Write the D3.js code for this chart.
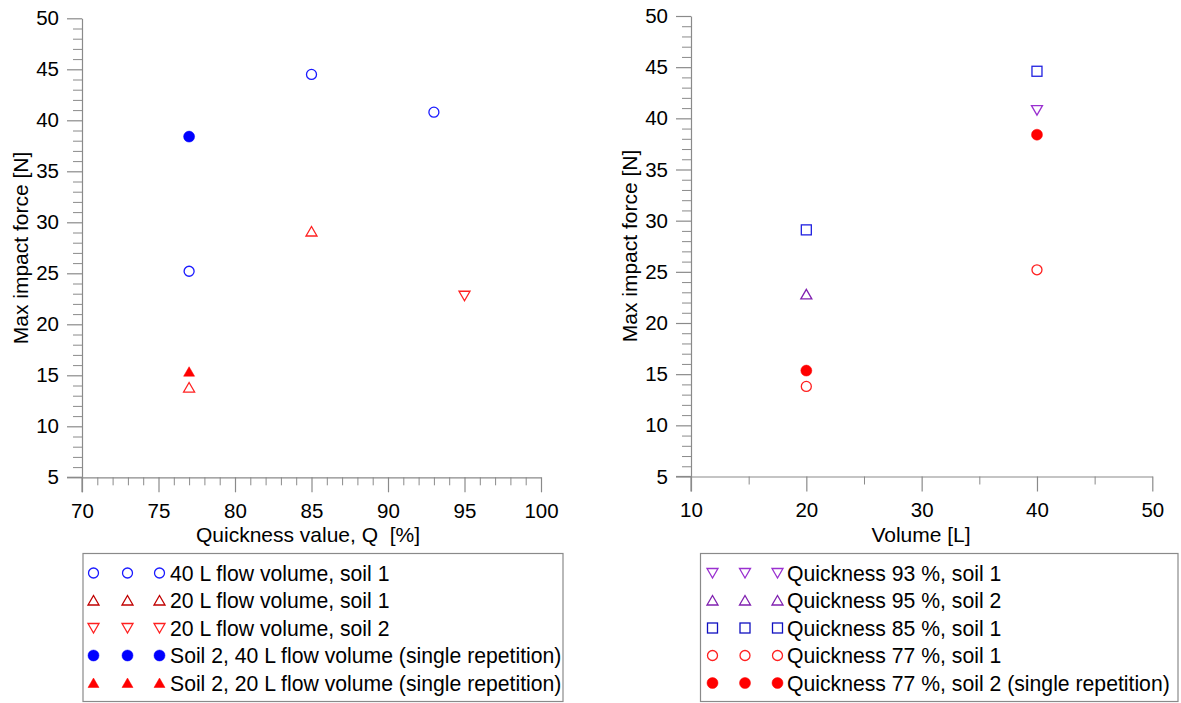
<!DOCTYPE html>
<html>
<head>
<meta charset="utf-8">
<script src="https://cdn.jsdelivr.net/npm/d3@7"></script>
<style>
  html, body { margin: 0; padding: 0; background: #fff; }
  svg { display: block; font-family: "Liberation Sans", Arial, sans-serif; }
  text { white-space: pre; }
</style>
</head>
<body>
<svg id="chart" width="1181" height="703"></svg>
<script>
// ---- Data: max impact force [N] ----
// Left panel: against quickness value Q [%]
const qSoil1Vol40 = [{x: 77, y: 25.2}, {x: 85, y: 44.5}, {x: 93, y: 40.8}];
const qSoil1Vol20 = [{x: 77, y: 13.8}, {x: 85, y: 29.1}];
const qSoil2Vol20 = [{x: 95, y: 22.8}];
const qSoil2Vol40Single = [{x: 77, y: 38.4}];
const qSoil2Vol20Single = [{x: 77, y: 15.35}];

// Right panel: against flow volume [L]
const vQ93Soil1 = [{x: 40, y: 40.8}];
const vQ95Soil2 = [{x: 20, y: 22.8}];
const vQ85Soil1 = [{x: 20, y: 29.1}, {x: 40, y: 44.6}];
const vQ77Soil1 = [{x: 20, y: 13.8}, {x: 40, y: 25.2}];
const vQ77Soil2Single = [{x: 20, y: 15.35}, {x: 40, y: 38.4}];

const yTicks = [5, 10, 15, 20, 25, 30, 35, 40, 45, 50];
const qTicks = [70, 75, 80, 85, 90, 95, 100];
const volTicks = [10, 20, 30, 40, 50];

const leftLegend = [
  {label: "40 L flow volume, soil 1", shape: "circle", fill: false, color: "#1a1aff"},
  {label: "20 L flow volume, soil 1", shape: "up", fill: false, color: "#c00000"},
  {label: "20 L flow volume, soil 2", shape: "down", fill: false, color: "#ff2020"},
  {label: "Soil 2, 40 L flow volume (single repetition)", shape: "circle", fill: true, color: "#0000ff"},
  {label: "Soil 2, 20 L flow volume (single repetition)", shape: "up", fill: true, color: "#ff0000"}
];
const rightLegend = [
  {label: "Quickness 93 %, soil 1", shape: "down", fill: false, color: "#9a30d0"},
  {label: "Quickness 95 %, soil 2", shape: "up", fill: false, color: "#8020b0"},
  {label: "Quickness 85 %, soil 1", shape: "square", fill: false, color: "#1010c0"},
  {label: "Quickness 77 %, soil 1", shape: "circle", fill: false, color: "#ff2020"},
  {label: "Quickness 77 %, soil 2 (single repetition)", shape: "circle", fill: true, color: "#ff0000"}
];

const svg = d3.select("#chart");
const axisColor = "#8a8a8a";
const font = '"Liberation Sans", Arial, sans-serif';

// marker drawing helper
function marker(g, shape, fill, color, cx, cy) {
  let el;
  if (shape === "circle") {
    el = g.append("circle").attr("cx", cx).attr("cy", cy).attr("r", fill ? 5.5 : 5);
  } else if (shape === "square") {
    el = g.append("rect").attr("x", cx - 5).attr("y", cy - 5).attr("width", 10).attr("height", 10);
  } else if (shape === "up") {
    const w = 5.5, h = 9;
    el = g.append("path").attr("d",
      `M${cx},${cy - h / 2 - 0.5}L${cx + w},${cy + h / 2}L${cx - w},${cy + h / 2}Z`);
  } else {
    const w = 5.5, h = 9;
    el = g.append("path").attr("d",
      `M${cx - w},${cy - h / 2}L${cx + w},${cy - h / 2}L${cx},${cy + h / 2 + 0.5}Z`);
  }
  el.attr("fill", fill ? color : "none")
    .attr("stroke", color)
    .attr("stroke-width", fill ? 0.5 : 1.3);
  return el;
}

function range(a, b, step) {
  const out = [];
  for (let v = a; v <= b + 1e-9; v += step) out.push(+v.toFixed(6));
  return out;
}

function panel(opts) {
  const x = d3.scaleLinear().domain(opts.xDomain).range(opts.xRange);
  const y = d3.scaleLinear().domain([5, 50]).range(opts.yRange);
  const g = svg.append("g");

  // minor ticks
  const yMinor = range(5, 50, 1).filter(v => !yTicks.includes(v));
  g.append("g").attr("transform", `translate(${opts.xRange[0]},0)`)
    .call(d3.axisLeft(y).tickValues(yMinor).tickSize(9).tickFormat(""))
    .call(a => a.select(".domain").remove())
    .call(a => a.selectAll("line").attr("stroke", axisColor));
  const xMinor = range(opts.xDomain[0], opts.xDomain[1], opts.xMinorStep)
    .filter(v => !opts.xTicks.includes(v));
  g.append("g").attr("transform", `translate(0,${opts.yRange[0]})`)
    .call(d3.axisBottom(x).tickValues(xMinor).tickSize(8).tickFormat(""))
    .call(a => a.select(".domain").remove())
    .call(a => a.selectAll("line").attr("stroke", axisColor));

  // major axes
  const ya = g.append("g").attr("transform", `translate(${opts.xRange[0]},0)`)
    .call(d3.axisLeft(y).tickValues(yTicks).tickSizeInner(15).tickSizeOuter(0).tickPadding(8).tickFormat(d3.format("d")));
  const xa = g.append("g").attr("transform", `translate(0,${opts.yRange[0]})`)
    .call(d3.axisBottom(x).tickValues(opts.xTicks).tickSizeInner(15).tickSizeOuter(0).tickPadding(11).tickFormat(d3.format("d")));
  [ya, xa].forEach(a => {
    a.select(".domain").attr("stroke", axisColor).attr("stroke-width", 1.2);
    a.selectAll("line").attr("stroke", axisColor).attr("stroke-width", 1.2);
    a.selectAll("text").attr("fill", "#000").attr("font-size", 20.5)
      .attr("font-family", font);
  });
  // corner ticks at the origin
  g.append("line")
    .attr("x1", opts.xRange[0] - 15).attr("x2", opts.xRange[0])
    .attr("y1", opts.yRange[0]).attr("y2", opts.yRange[0])
    .attr("stroke", axisColor).attr("stroke-width", 1.2);
  g.append("line")
    .attr("x1", opts.xRange[0]).attr("x2", opts.xRange[0])
    .attr("y1", opts.yRange[0]).attr("y2", opts.yRange[0] + 15)
    .attr("stroke", axisColor).attr("stroke-width", 1.2);

  // axis titles
  g.append("text")
    .attr("x", opts.xTitleX).attr("y", 542)
    .attr("text-anchor", "middle").attr("font-size", 21)
    .text(opts.xTitle);
  g.append("text")
    .attr("transform", `translate(${opts.yTitleX},${opts.yTitleY}) rotate(-90)`)
    .attr("text-anchor", "middle").attr("font-size", 21)
    .text("Max impact force [N]");

  // points
  opts.series.forEach(s => {
    s.data.forEach(d => marker(g, s.shape, s.fill, s.color, x(d.x), y(d.y)));
  });

  // legend
  const lg = svg.append("g");
  lg.append("rect")
    .attr("x", opts.legend.x).attr("y", 553.5)
    .attr("width", opts.legend.w).attr("height", 148)
    .attr("fill", "#fff").attr("stroke", "#8a8a8a").attr("stroke-width", 1.2);
  opts.legend.items.forEach((it, i) => {
    const cy = 573 + i * 27.5;
    opts.legend.markerX.forEach(mx => marker(lg, it.shape, it.fill, it.color, mx, cy));
    lg.append("text")
      .attr("x", opts.legend.textX).attr("y", cy + 7.5)
      .attr("font-size", 21.2).attr("fill", "#000")
      .text(it.label);
  });
}

panel({
  xDomain: [70, 100], xRange: [82, 541], yRange: [477.3, 18.3],
  xTicks: qTicks, xMinorStep: 1,
  xTitle: "Quickness value, Q  [%]", xTitleX: 308,
  yTitleX: 28, yTitleY: 248,
  series: [
    {data: qSoil1Vol40, shape: "circle", fill: false, color: "#1a1aff"},
    {data: qSoil1Vol20, shape: "up", fill: false, color: "#ff2020"},
    {data: qSoil2Vol20, shape: "down", fill: false, color: "#ff2020"},
    {data: qSoil2Vol40Single, shape: "circle", fill: true, color: "#0000ff"},
    {data: qSoil2Vol20Single, shape: "up", fill: true, color: "#ff0000"}
  ],
  legend: {x: 83, w: 480, markerX: [93.5, 127.5, 159.5], textX: 170, items: leftLegend}
});

panel({
  xDomain: [10, 50], xRange: [691, 1152.3], yRange: [476.5, 16],
  xTicks: volTicks, xMinorStep: 5,
  xTitle: "Volume [L]", xTitleX: 921,
  yTitleX: 637, yTitleY: 246,
  series: [
    {data: vQ93Soil1, shape: "down", fill: false, color: "#9a30d0"},
    {data: vQ95Soil2, shape: "up", fill: false, color: "#8020b0"},
    {data: vQ85Soil1, shape: "square", fill: false, color: "#2020e0"},
    {data: vQ77Soil1, shape: "circle", fill: false, color: "#ff2020"},
    {data: vQ77Soil2Single, shape: "circle", fill: true, color: "#ff0000"}
  ],
  legend: {x: 700.5, w: 477.5, markerX: [712.5, 745, 777.5], textX: 787, items: rightLegend}
});
</script>
</body>
</html>
